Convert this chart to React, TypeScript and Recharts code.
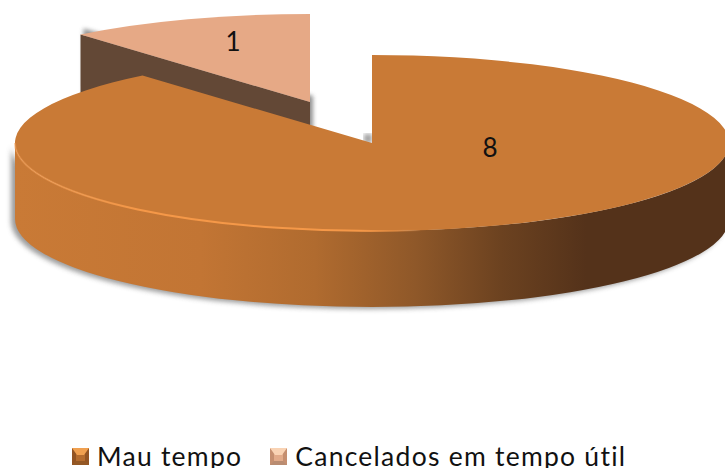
import React from "react";
import { PieChart, Pie, Legend } from "recharts";

const CATEGORIES = ["Cancelados em tempo útil", "Mau tempo"];
const VALUES = [1, 8];
const TOP_COLORS = ["#e6a986", "#c97a36"];

const WIDTH = 725;
const HEIGHT = 468;
const CX = 372;
const CY = 143;
const RX = 357;
const RY = 88;
const DEPTH = 76;
const FONT = "Lato, 'Open Sans', sans-serif";

// pulled-out slice sits up and to the left of the disc
const EXPLODE = { x: -62, y: -41 };
const LABEL_OFFSET = [
  { x: -77, y: -58 },
  { x: 118, y: 7 },
];

const data = CATEGORIES.map((name, i) => ({ name, value: VALUES[i], fill: TOP_COLORS[i] }));

const pt = (cx: number, cy: number, deg: number) => {
  const a = (deg * Math.PI) / 180;
  return { x: cx + RX * Math.cos(a), y: cy - RY * Math.sin(a) };
};

function Slice3D(props: any) {
  const { startAngle, endAngle, cx, fill, value, index } = props;
  const i = index ?? (value === VALUES[0] ? 0 : 1);
  const exploded = i === 0;
  const ox = cx + (exploded ? EXPLODE.x : 0);
  const oy = CY + (exploded ? EXPLODE.y : 0);
  const s = pt(ox, oy, startAngle);
  const e = pt(ox, oy, endAngle);
  const large = Math.abs(startAngle - endAngle) > 180 ? 1 : 0;
  const top = `M${ox},${oy} L${s.x},${s.y} A${RX},${RY} 0 ${large} 1 ${e.x},${e.y} Z`;
  const label = LABEL_OFFSET[i];

  const textEl = (
    <text
      x={ox + label.x}
      y={oy + label.y}
      textAnchor="middle"
      dominantBaseline="middle"
      fontFamily={FONT}
      fontSize={26}
      fill="#111"
    >
      {value}
    </text>
  );

  if (exploded) {
    const wall = `M${s.x},${s.y} L${ox},${oy} L${ox},${oy + DEPTH} L${s.x},${s.y + DEPTH} Z`;
    return (
      <g>
        <defs>
          <filter id="softSmall" x="-10%" y="-10%" width="120%" height="120%">
            <feGaussianBlur stdDeviation="2" />
          </filter>
        </defs>
        <path d={wall} fill="#777" filter="url(#softSmall)" transform="translate(3,-6)" opacity={0.8} />
        <path d={wall} fill="#634836" />
        <path d={top} fill={fill} />
        {textEl}
      </g>
    );
  }

  const l = pt(ox, oy, 180);
  const r = pt(ox, oy, 0);
  const side =
    `M${l.x},${l.y} A${RX},${RY} 0 0 0 ${r.x},${r.y} ` +
    `L${r.x},${r.y + DEPTH} A${RX},${RY} 0 0 1 ${l.x},${l.y + DEPTH} Z`;
  const rimEnd = pt(ox, oy, -82);
  const rim = `M${l.x},${l.y} A${RX},${RY} 0 0 0 ${rimEnd.x},${rimEnd.y}`;

  return (
    <g>
      <defs>
        <linearGradient id="sideShade" gradientUnits="userSpaceOnUse" x1={l.x} x2={r.x} y1={0} y2={0}>
          <stop offset="0" stopColor="#c97a36" />
          <stop offset="0.26" stopColor="#c27534" />
          <stop offset="0.42" stopColor="#b06b2f" />
          <stop offset="0.56" stopColor="#8f5829" />
          <stop offset="0.68" stopColor="#6c4220" />
          <stop offset="0.8" stopColor="#54321a" />
          <stop offset="1" stopColor="#54321a" />
        </linearGradient>
        <linearGradient id="rimShade" gradientUnits="userSpaceOnUse" x1={l.x} x2={rimEnd.x} y1={0} y2={0}>
          <stop offset="0" stopColor="#f09a50" stopOpacity={0.5} />
          <stop offset="0.3" stopColor="#f59848" />
          <stop offset="0.85" stopColor="#f59848" />
          <stop offset="1" stopColor="#f59848" stopOpacity={0} />
        </linearGradient>
        <filter id="softBig" x="-5%" y="-10%" width="110%" height="120%">
          <feGaussianBlur stdDeviation="2.5" />
        </filter>
      </defs>
      <path d={side} fill="#7a7a7a" filter="url(#softBig)" transform="translate(-4,2)" opacity={0.75} />
      <path d={side} fill="url(#sideShade)" />
      <rect x={ox - 8} y={oy - 9} width={8} height={9} fill="#999" filter="url(#softBig)" />
      <path d={top} fill={fill} />
      <path d={rim} fill="none" stroke="url(#rimShade)" strokeWidth={2} />
      {textEl}
    </g>
  );
}

function Swatch({ color, light, dark }: { color: string; light: string; dark: string }) {
  return (
    <svg width={17} height={17} style={{ flex: "none" }}>
      <rect x={0} y={0} width={17} height={17} fill={color} />
      <polygon points="0,0 4,4 4,13 0,17" fill={dark} />
      <polygon points="17,0 13,4 13,13 17,17" fill={dark} />
      <polygon points="0,0 17,0 12,7 5,7" fill={light} />
      <polygon points="0,17 17,17 13,13 4,13" fill="#000" opacity={0.18} />
    </svg>
  );
}

const SWATCH_LIGHT = ["#f9d3b4", "#f0a050"];
const SWATCH_BASE = ["#e2ab8a", "#b56c2e"];
const SWATCH_DARK = ["#c58f70", "#935423"];

function LegendRow({ payload }: any) {
  // the disc is drawn last, but it comes first in the key
  const items = [...(payload ?? [])].reverse();
  return (
    <div style={{ display: "flex", alignItems: "center", marginLeft: 72, fontFamily: FONT, fontSize: 26.5, letterSpacing: 1.25, color: "#111", whiteSpace: "nowrap" }}>
      {items.map((item: any) => {
        const idx = CATEGORIES.indexOf(item.value);
        return (
          <div key={item.value} style={{ display: "flex", alignItems: "center", marginRight: 28 }}>
            <Swatch color={SWATCH_BASE[idx]} light={SWATCH_LIGHT[idx]} dark={SWATCH_DARK[idx]} />
            <span style={{ marginLeft: 8 }}>{item.value}</span>
          </div>
        );
      })}
    </div>
  );
}

export default function App() {
  return (
    <div style={{ position: "absolute", left: 0, top: 0, width: WIDTH, height: HEIGHT, overflow: "hidden", background: "#fff" }}>
      <PieChart width={WIDTH} height={HEIGHT} margin={{ top: 0, right: 0, bottom: 0, left: 0 }}>
        <Pie
          data={data}
          dataKey="value"
          nameKey="name"
          cx={CX}
          cy={CY}
          outerRadius={RX}
          startAngle={130}
          endAngle={-230}
          stroke="none"
          shape={Slice3D}
          isAnimationActive={false}
        />
        <Legend content={LegendRow} wrapperStyle={{ left: 0, top: 440, width: WIDTH }} />
      </PieChart>
    </div>
  );
}
